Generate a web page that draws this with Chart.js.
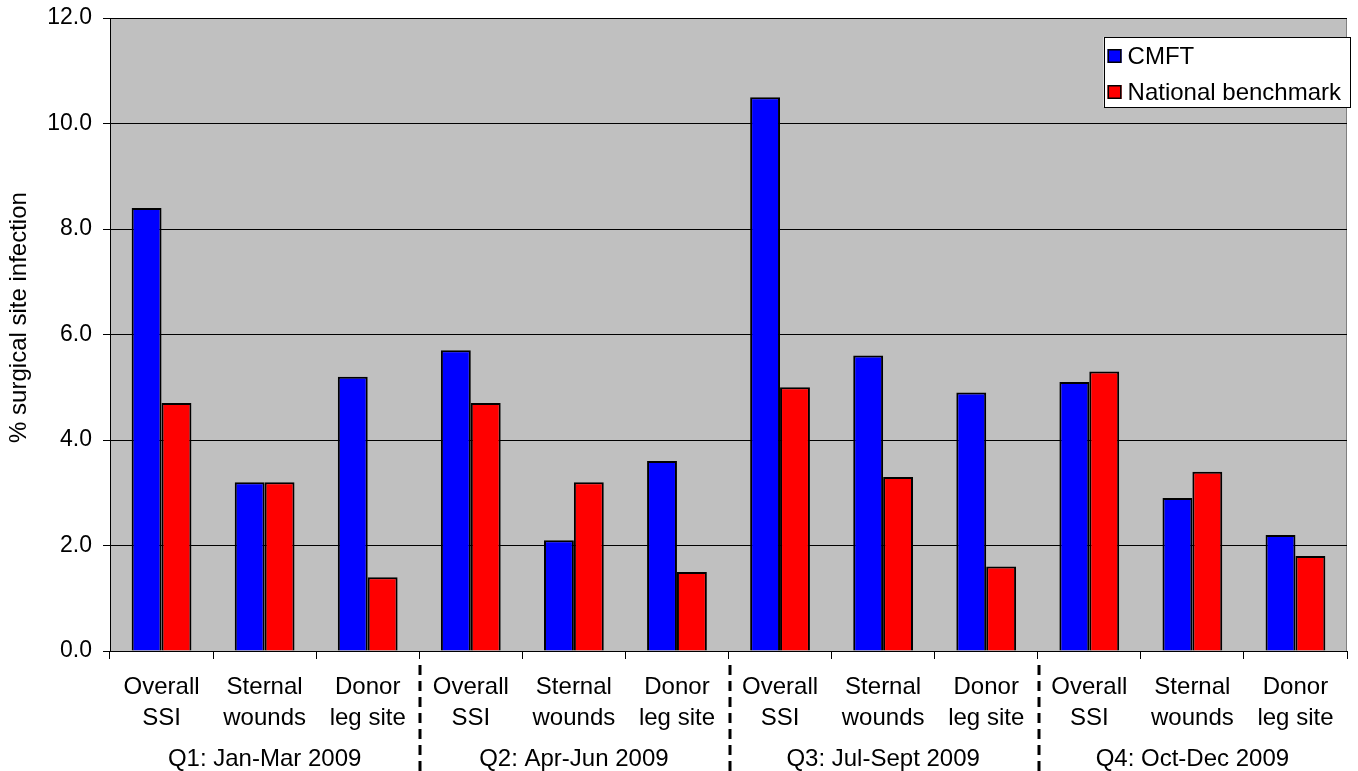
<!DOCTYPE html>
<html>
<head>
<meta charset="utf-8">
<script src="https://cdn.jsdelivr.net/npm/chart.js@4/dist/chart.umd.min.js"></script>
<style>
  html, body { margin: 0; padding: 0; background: #ffffff; }
  #wrap { width: 1358px; height: 771px; position: relative; }
</style>
</head>
<body>
<div id="wrap"><canvas id="c"></canvas></div>
<script>
// Surgical site infection rates per quarter, by wound type
const categories = [
  ['Overall', 'SSI'], ['Sternal', 'wounds'], ['Donor', 'leg site'],
  ['Overall', 'SSI'], ['Sternal', 'wounds'], ['Donor', 'leg site'],
  ['Overall', 'SSI'], ['Sternal', 'wounds'], ['Donor', 'leg site'],
  ['Overall', 'SSI'], ['Sternal', 'wounds'], ['Donor', 'leg site']
];
const quarters = ['Q1: Jan-Mar 2009', 'Q2: Apr-Jun 2009', 'Q3: Jul-Sept 2009', 'Q4: Oct-Dec 2009'];
const cmft = [8.4, 3.2, 5.2, 5.7, 2.1, 3.6, 10.5, 5.6, 4.9, 5.1, 2.9, 2.2];
const nationalBenchmark = [4.7, 3.2, 1.4, 4.7, 3.2, 1.5, 5.0, 3.3, 1.6, 5.3, 3.4, 1.8];
const yTicks = [0, 2, 4, 6, 8, 10, 12];
const yTitle = '% surgical site infection';

const FONT = '"Liberation Sans", Arial, sans-serif';

// Grey plot background with a thin frame on the top and right
const plotBackground = {
  id: 'plotBackground',
  beforeDraw(chart) {
    const { ctx, chartArea: a } = chart;
    ctx.save();
    ctx.fillStyle = '#C0C0C0';
    ctx.fillRect(a.left, a.top, a.right - a.left, a.bottom - a.top);
    ctx.strokeStyle = '#808080';
    ctx.lineWidth = 1;
    ctx.beginPath();
    ctx.moveTo(a.left, a.top + 0.5);
    ctx.lineTo(a.right - 0.5, a.top + 0.5);
    ctx.lineTo(a.right - 0.5, a.bottom);
    ctx.stroke();
    ctx.restore();
  }
};

// Rotated value-axis title, set a little above the middle of the plot
const axisTitle = {
  id: 'axisTitle',
  afterDraw(chart) {
    const { ctx, chartArea: a } = chart;
    ctx.save();
    ctx.translate(19, (a.top + a.bottom) / 2 - 17);
    ctx.rotate(-Math.PI / 2);
    ctx.fillStyle = '#000';
    ctx.font = '24px ' + FONT;
    ctx.textAlign = 'center';
    ctx.textBaseline = 'middle';
    ctx.fillText(yTitle, 0, 0);
    ctx.restore();
  }
};

// Quarter labels under each group of three categories, split by dashed lines
const quarterGroups = {
  id: 'quarterGroups',
  afterDraw(chart) {
    const { ctx, chartArea: a } = chart;
    const x = chart.scales.x;
    const per = categories.length / quarters.length;
    ctx.save();
    ctx.fillStyle = '#000';
    ctx.font = '24px ' + FONT;
    ctx.textAlign = 'center';
    ctx.textBaseline = 'middle';
    quarters.forEach((q, i) => {
      const first = x.getPixelForValue(i * per);
      const last = x.getPixelForValue(i * per + per - 1);
      ctx.fillText(q, (first + last) / 2, a.bottom + 108);
    });
    ctx.strokeStyle = '#000';
    ctx.lineWidth = 3;
    ctx.setLineDash([10, 6]);
    for (let i = 1; i < quarters.length; i++) {
      const xl = x.getPixelForValue(i * per - 1);
      const xr = x.getPixelForValue(i * per);
      const xm = Math.round((xl + xr) / 2) + 1;
      ctx.beginPath();
      ctx.moveTo(xm, a.bottom + 14);
      ctx.lineTo(xm, chart.height);
      ctx.stroke();
    }
    ctx.restore();
  }
};

// Boxed legend in the upper right corner of the plot
const boxLegend = {
  id: 'boxLegend',
  afterDraw(chart) {
    const { ctx, chartArea: a } = chart;
    const ds = chart.data.datasets;
    ctx.save();
    ctx.font = '24px ' + FONT;
    const textW = Math.max(...ds.map(d => ctx.measureText(d.label).width));
    const sq = 14, gap = 6, padL = 4, padR = 9, rowH = 36;
    const w = padL + sq + gap + textW + padR;
    const h = 70;
    const right = a.right + 3;
    const left = right - w;
    const top = a.top + 19;
    ctx.fillStyle = '#fff';
    ctx.fillRect(left, top, w, h);
    ctx.strokeStyle = '#000';
    ctx.lineWidth = 1;
    ctx.strokeRect(Math.round(left) + 0.5, Math.round(top) + 0.5, Math.round(w), Math.round(h));
    ds.forEach((d, i) => {
      const cy = top + 19 + rowH * i;
      ctx.fillStyle = d.backgroundColor;
      ctx.fillRect(left + padL, cy - sq / 2, sq, sq);
      ctx.strokeStyle = '#000';
      ctx.lineWidth = 1.5;
      ctx.strokeRect(left + padL + 0.75, cy - sq / 2 + 0.75, sq - 1.5, sq - 1.5);
      ctx.fillStyle = '#000';
      ctx.textAlign = 'left';
      ctx.textBaseline = 'middle';
      ctx.fillText(d.label, left + padL + sq + gap, cy + 1);
    });
    ctx.restore();
  }
};

new Chart(document.getElementById('c'), {
  type: 'bar',
  data: {
    labels: categories,
    datasets: [
      { label: 'CMFT', data: cmft, backgroundColor: '#0000FF', borderColor: '#000', borderWidth: 2, borderSkipped: 'bottom' },
      { label: 'National benchmark', data: nationalBenchmark, backgroundColor: '#FF0000', borderColor: '#000', borderWidth: 2, borderSkipped: 'bottom' }
    ]
  },
  options: {
    responsive: true,
    maintainAspectRatio: false,
    animation: false,
    devicePixelRatio: 1,
    layout: { padding: { top: 18, right: 11, left: 0, bottom: 0 } },
    datasets: { bar: { categoryPercentage: 0.58, barPercentage: 1.0 } },
    plugins: {
      legend: { display: false },
      tooltip: { enabled: false }
    },
    scales: {
      x: {
        offset: true,
        grid: { display: true, drawOnChartArea: false, drawTicks: true, tickLength: 8, color: '#000', offset: true },
        border: { display: true, color: '#000', width: 1 },
        ticks: {
          color: '#000',
          font: { family: FONT, size: 24, lineHeight: 1.29 },
          padding: 13,
          maxRotation: 0,
          autoSkip: false
        },
        afterFit(scale) {
          scale.height = 120;
          scale.paddingLeft = 0;
          scale.paddingRight = 0;
        }
      },
      y: {
        min: 0,
        max: 12,
        afterBuildTicks(scale) { scale.ticks = yTicks.map(v => ({ value: v })); },
        grid: { color: '#000', lineWidth: 1, drawTicks: true, tickLength: 7 },
        border: { display: true, color: '#000', width: 1 },
        ticks: {
          color: '#000',
          font: { family: FONT, size: 23 },
          padding: 11,
          callback: v => Number(v).toFixed(1)
        },
        title: { display: false },
        afterFit(scale) {
          scale.width = 110;
          scale.paddingTop = 0;
          scale.paddingBottom = 0;
        }
      }
    }
  },
  plugins: [plotBackground, axisTitle, quarterGroups, boxLegend]
});
</script>
</body>
</html>
